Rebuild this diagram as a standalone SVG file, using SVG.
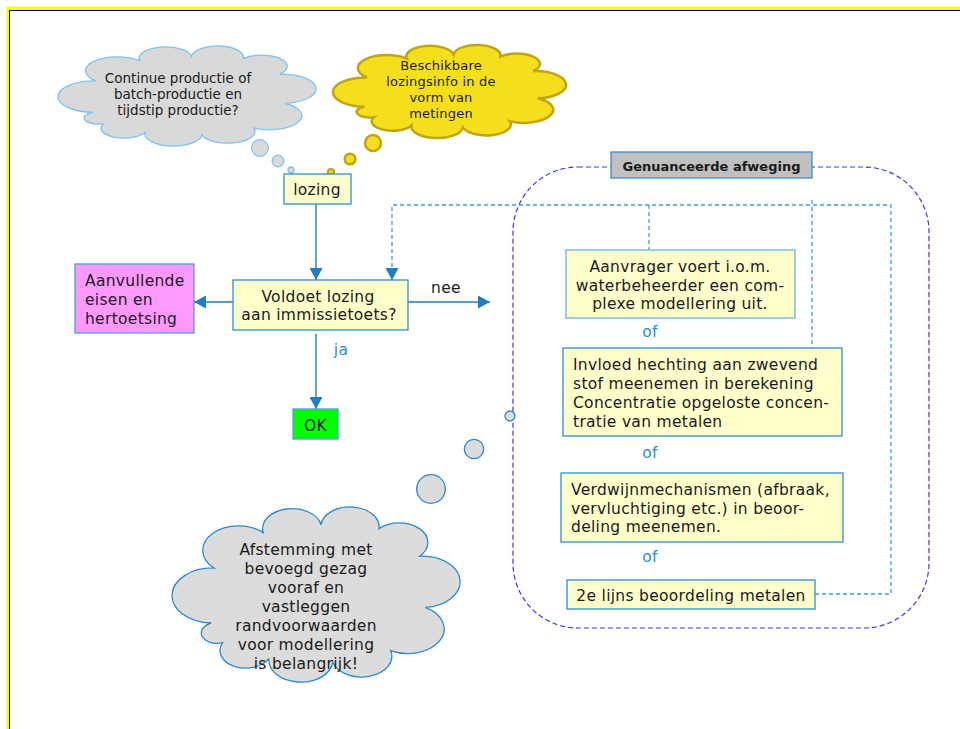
<svg xmlns="http://www.w3.org/2000/svg" width="960" height="729" viewBox="0 0 960 729">
<style>
.t{font-family:"DejaVu Sans",Verdana,sans-serif;font-size:15.5px;letter-spacing:0.3px;fill:#1a1a1a}
.c{text-anchor:middle}
.box{fill:#ffffcc;stroke:#2b8fd6;stroke-width:1.3}
.lbl{fill:#2b8fd6}
.flow{stroke:#1e7cc8;stroke-width:1.4;fill:none}
.dash{stroke:#3a9ad9;stroke-width:1.3;stroke-dasharray:4 3;fill:none}
.sm{font-size:13.5px;letter-spacing:0}
.ym{font-size:13px;letter-spacing:0.2px}
</style>
<defs>
<marker id="ah" markerWidth="13" markerHeight="13" refX="12" refY="6.5" orient="auto" markerUnits="userSpaceOnUse">
<path d="M0,0 L12,6.5 L0,13 z" fill="#1e7cc8"/>
</marker>
<path id="cl" vector-effect="non-scaling-stroke" d="M14,64 A1,1 0 0 1 15,36 A1,1 0 0 1 32,18 A1,1 0 0 1 52,14 A1,1 0 0 1 72,16 A1,1 0 0 1 86,30 A1,1 0 0 1 88,56 A1,1 0 0 1 76,78 A1,1 0 0 1 56,84 A1,1 0 0 1 34,82 A1,1 0 0 1 18,74 A1,1 0 0 1 14,64 Z"/>
</defs>
<!-- frame -->
<rect x="6.5" y="6.5" width="1000" height="1000" fill="#ffff00"/>
<rect x="9" y="10" width="1000" height="1000" fill="#000"/>
<rect x="10" y="11" width="1000" height="1000" fill="#fff"/>

<!-- big dashed group outline -->
<rect x="513" y="167" width="416" height="461" rx="65" ry="65" fill="none" stroke="#3333ee" stroke-width="1.2" stroke-dasharray="5 3"/>

<g id="connectors">
<path class="flow" d="M316,204 V280" marker-end="url(#ah)"/>
<path class="flow" d="M233,302 H194" marker-end="url(#ah)"/>
<path class="flow" d="M408,302 H490" marker-end="url(#ah)"/>
<path class="flow" d="M316,334 V409" marker-end="url(#ah)"/>
<path class="dash" d="M815,594 H891 V205 H392 V268"/>
<path d="M392,268 V280" stroke="#1e7cc8" stroke-width="1.3" marker-end="url(#ah)"/>
<path class="dash" d="M649,205 V250"/>
<path class="dash" d="M812,200 V348"/>
<text class="t c" x="446" y="293">nee</text>
<text class="t c lbl" x="341" y="355">ja</text>
<text class="t c lbl" x="650" y="337">of</text>
<text class="t c lbl" x="650" y="458">of</text>
<text class="t c lbl" x="650" y="562">of</text>
</g>

<g id="cloud-productie">
<use href="#cl" transform="translate(56.7,40.4) scale(2.593,1.124)" fill="#d9d9d9" stroke="#7cc4f0" stroke-width="1.3"/>
<circle cx="260" cy="148" r="8.3" fill="#d9d9d9" stroke="#7cc4f0" stroke-width="1.3"/>
<circle cx="278" cy="161" r="5.8" fill="#d9d9d9" stroke="#7cc4f0" stroke-width="1.3"/>
<circle cx="291" cy="170" r="3" fill="#d9d9d9" stroke="#7cc4f0" stroke-width="1.3"/>
<text class="t c sm" x="178" y="83">Continue productie of</text>
<text class="t c sm" x="178" y="99">batch-productie en</text>
<text class="t c sm" x="178" y="115">tijdstip productie?</text>
</g>

<g id="cloud-metingen">
<use href="#cl" transform="translate(331.8,39.8) scale(2.342,1.045)" fill="#f5df1c" stroke="#bfa514" stroke-width="2.5"/>
<circle cx="373" cy="143" r="8" fill="#f5df1c" stroke="#bfa514" stroke-width="2.5"/>
<circle cx="350" cy="159" r="5.3" fill="#f5df1c" stroke="#bfa514" stroke-width="2.5"/>
<circle cx="331" cy="172" r="3" fill="#f5df1c" stroke="#bfa514" stroke-width="2.2"/>
<text class="t c ym" x="441" y="70">Beschikbare</text>
<text class="t c ym" x="441" y="86">lozingsinfo in de</text>
<text class="t c ym" x="441" y="102">vorm van</text>
<text class="t c ym" x="441" y="118">metingen</text>
</g>

<g id="lozing">
<rect class="box" x="284" y="174" width="67" height="30"/>
<text class="t c" x="317" y="195">lozing</text>
</g>

<g id="voldoet">
<rect class="box" x="233" y="280" width="175" height="50"/>
<text class="t c" x="318" y="302">Voldoet lozing</text>
<text class="t c" x="319" y="320">aan immissietoets?</text>
</g>

<g id="aanvullende">
<rect x="75" y="264" width="119" height="69" fill="#ff99ff" stroke="#4a9fd8" stroke-width="1.3"/>
<text class="t" x="85" y="286">Aanvullende</text>
<text class="t" x="85" y="305">eisen en</text>
<text class="t" x="85" y="324">hertoetsing</text>
</g>

<g id="ok">
<rect x="293" y="409" width="45" height="30" fill="#00ff00" stroke="#4a9fd8" stroke-width="1.3"/>
<text class="t c" x="315.5" y="431">OK</text>
</g>

<g id="genuanceerde">
<rect x="611" y="152" width="201" height="26" fill="#c0c0c0" stroke="#3a8fd0" stroke-width="1.3"/>
<text class="t c" style="font-size:13px;font-weight:bold;letter-spacing:0" x="711.5" y="171">Genuanceerde afweging</text>
</g>

<g id="aanvrager">
<rect class="box" x="566" y="250" width="229" height="68" style="stroke:#6ab4e6"/>
<text class="t c" x="680" y="272">Aanvrager voert i.o.m.</text>
<text class="t c" x="680" y="291">waterbeheerder een com-</text>
<text class="t c" x="680" y="309">plexe modellering uit.</text>
</g>

<g id="invloed">
<rect class="box" x="563" y="348" width="279" height="88"/>
<text class="t" x="573" y="370">Invloed hechting aan zwevend</text>
<text class="t" x="573" y="389">stof meenemen in berekening</text>
<text class="t" x="573" y="408">Concentratie opgeloste concen-</text>
<text class="t" x="573" y="427">tratie van metalen</text>
</g>

<g id="verdwijn">
<rect class="box" x="561" y="473" width="282" height="69"/>
<text class="t" x="571" y="495">Verdwijnmechanismen (afbraak,</text>
<text class="t" x="571" y="514">vervluchtiging etc.) in beoor-</text>
<text class="t" x="571" y="532">deling meenemen.</text>
</g>

<g id="tweedelijns">
<rect class="box" x="567" y="580" width="248" height="29"/>
<text class="t c" x="691" y="601">2e lijns beoordeling metalen</text>
</g>

<g id="cloud-afstemming">
<use href="#cl" transform="translate(170.6,497.2) scale(2.894,1.966)" fill="#dcdcdc" stroke="#2a88d0" stroke-width="1.3"/>
<circle cx="431" cy="489" r="14.3" fill="#dcdcdc" stroke="#2a88d0" stroke-width="1.3"/>
<circle cx="474" cy="449" r="9.7" fill="#dcdcdc" stroke="#2a88d0" stroke-width="1.3"/>
<circle cx="510" cy="416" r="5" fill="#dcdcdc" stroke="#2a88d0" stroke-width="1.3"/>
<text class="t c" x="306" y="555">Afstemming met</text>
<text class="t c" x="306" y="574">bevoegd gezag</text>
<text class="t c" x="306" y="593">vooraf en</text>
<text class="t c" x="306" y="612">vastleggen</text>
<text class="t c" x="306" y="631">randvoorwaarden</text>
<text class="t c" x="306" y="650">voor modellering</text>
<text class="t c" x="306" y="669">is belangrijk!</text>
</g>
</svg>
